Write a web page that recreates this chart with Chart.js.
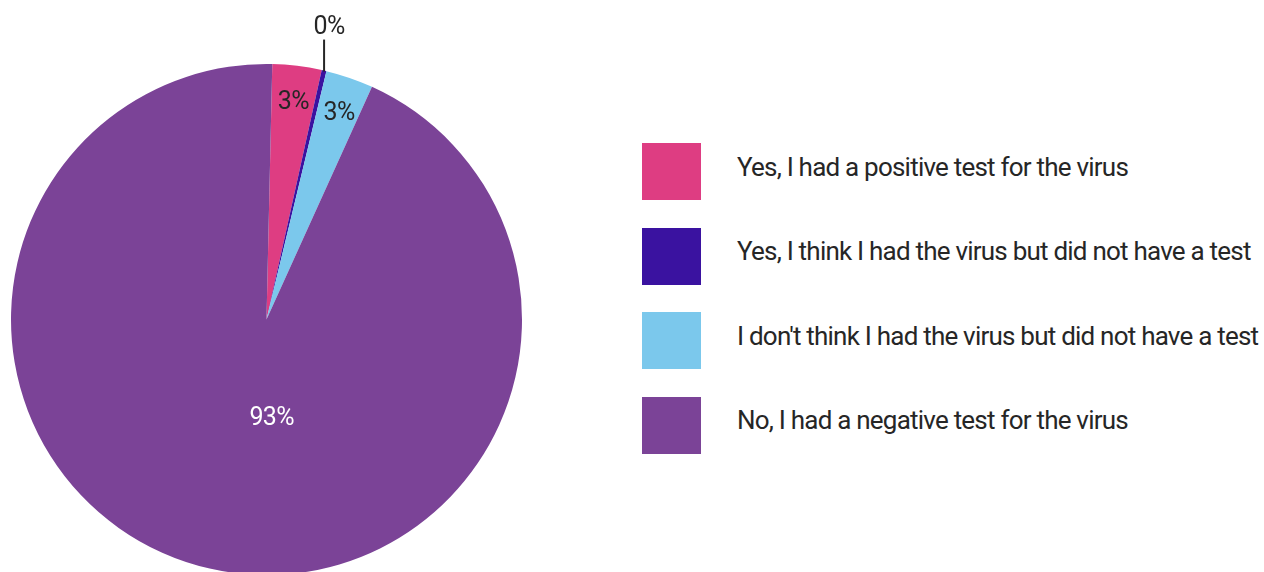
<!DOCTYPE html>
<html>
<head>
<meta charset="utf-8">
<title>Virus test results</title>
<script src="https://cdn.jsdelivr.net/npm/chart.js@4.4.1/dist/chart.umd.min.js"></script>
<style>
  html, body { margin: 0; padding: 0; background: #ffffff; width: 1264px; height: 572px; overflow: hidden; }
  #pieBox { position: absolute; left: 0; top: 0; width: 533px; height: 639px; }
  #legend {
    position: absolute; left: 642px; top: 143px; margin: 0; padding: 0; list-style: none;
    font-family: Roboto, "Liberation Sans", sans-serif; font-size: 26px; letter-spacing: -0.78px;
    color: #262626; white-space: nowrap;
  }
  #legend li { display: flex; align-items: center; height: 57px; margin-bottom: 27.5px; }
  #legend .swatch { width: 59px; height: 57px; flex: none; margin-right: 36px; }
  #legend .text { position: relative; top: -5px; }
</style>
</head>
<body>
<div id="pieBox"><canvas id="pie"></canvas></div>
<ul id="legend"></ul>
<script>
// Answers, in drawing order (clockwise from the top)
const categories = [
  'Yes, I had a positive test for the virus',
  'Yes, I think I had the virus but did not have a test',
  "I don't think I had the virus but did not have a test",
  'No, I had a negative test for the virus'
];
// Share of respondents, percent
const shares = [3.1, 0.3, 3.0, 93.4];
const sliceColors = ['#DE3D82', '#3A12A0', '#7BC8EC', '#7B4397'];
const labelColors = ['#262626', '#262626', '#262626', '#ffffff'];

// Percentage labels: inside wide slices, on a short leader line above thin ones
const sliceLabels = {
  id: 'sliceLabels',
  afterDatasetsDraw(chart, args, opts) {
    const ctx = chart.ctx;
    const meta = chart.getDatasetMeta(0);
    const values = chart.data.datasets[0].data;
    ctx.save();
    ctx.font = opts.font;
    ctx.textAlign = 'center';
    ctx.textBaseline = 'alphabetic';
    if ('letterSpacing' in ctx) ctx.letterSpacing = opts.letterSpacing;
    // half the cap height, to centre digits on their anchor point
    const halfCap = ctx.measureText('3').actualBoundingBoxAscent / 2;
    meta.data.forEach((arc, i) => {
      const p = arc.getProps(['x', 'y', 'startAngle', 'endAngle', 'outerRadius'], true);
      const text = Math.round(values[i]) + '%';
      const span = p.endAngle - p.startAngle;
      const mid = (p.startAngle + p.endAngle) / 2;
      if (span < opts.minInsideAngle) {
        const ex = p.x + Math.cos(mid) * p.outerRadius;
        const ey = p.y + Math.sin(mid) * p.outerRadius;
        ctx.strokeStyle = opts.calloutColor;
        ctx.lineWidth = 2;
        ctx.beginPath();
        ctx.moveTo(ex, ey + 1);
        ctx.lineTo(ex, ey - opts.calloutLength);
        ctx.stroke();
        ctx.fillStyle = opts.calloutColor;
        ctx.fillText(text, ex + 5, ey - opts.calloutLength - 15 + halfCap);
      } else {
        const big = span > Math.PI;
        const r = p.outerRadius * (big ? opts.wideRadius : opts.narrowRadius);
        const a = mid + (big ? opts.wideTurn * Math.PI / 180 : 0);
        ctx.fillStyle = labelColors[i];
        ctx.fillText(text, p.x + Math.cos(a) * r, p.y + Math.sin(a) * r + halfCap + 2);
      }
    });
    ctx.restore();
  }
};

const chart = new Chart(document.getElementById('pie'), {
  type: 'pie',
  data: {
    labels: categories,
    datasets: [{
      data: shares,
      backgroundColor: sliceColors,
      borderWidth: 0
    }]
  },
  options: {
    responsive: true,
    maintainAspectRatio: false,
    animation: false,
    rotation: 1.3,
    layout: { padding: 11 },
    events: [],
    plugins: {
      legend: { display: false },
      tooltip: { enabled: false },
      sliceLabels: {
        font: '25px Roboto, "Liberation Sans", sans-serif',
        letterSpacing: '-0.6px',
        minInsideAngle: 0.05,
        narrowRadius: 0.875,
        wideRadius: 0.37,
        wideTurn: -16,
        calloutLength: 31,
        calloutColor: '#262626'
      }
    }
  },
  plugins: [sliceLabels]
});

// Legend list built from the chart's own legend items
const legendEl = document.getElementById('legend');
Chart.overrides.pie.plugins.legend.labels.generateLabels(chart).forEach(item => {
  const li = document.createElement('li');
  const sw = document.createElement('span');
  sw.className = 'swatch';
  sw.style.background = item.fillStyle;
  const tx = document.createElement('span');
  tx.className = 'text';
  tx.textContent = item.text;
  li.appendChild(sw);
  li.appendChild(tx);
  legendEl.appendChild(li);
});
</script>
</body>
</html>
